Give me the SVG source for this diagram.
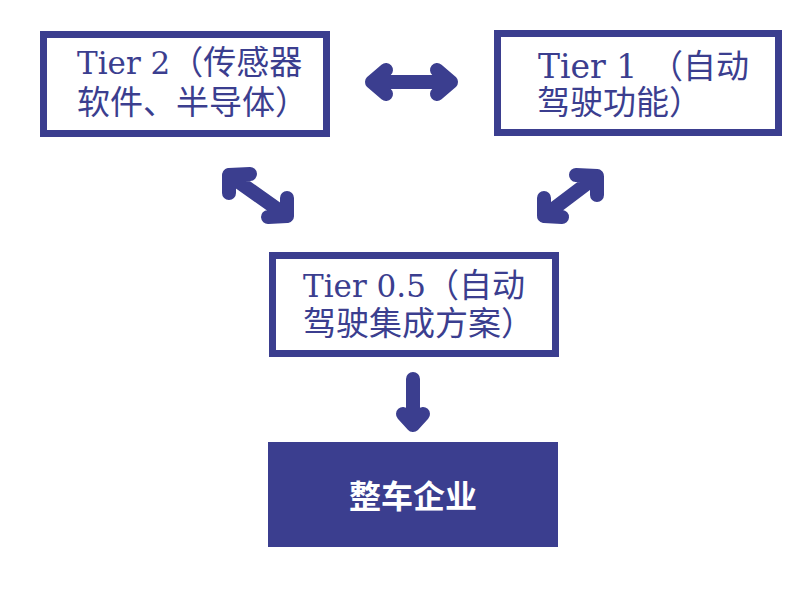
<svg xmlns="http://www.w3.org/2000/svg" width="807" height="604" viewBox="0 0 807 604">
<style>
.box{fill:#ffffff;stroke:#3b3e8f;stroke-width:7}
.solid{fill:#3b3e8f}
.t{font-family:"Noto Sans CJK SC",sans-serif;font-size:33px;fill:#3b3e8f}
.l{font-family:"DejaVu Serif","Liberation Serif",serif}
.w{font-family:"Noto Sans CJK SC",sans-serif;font-size:32px;font-weight:700;fill:#ffffff}
.arr{fill:none;stroke:#3b3e8f;stroke-width:14;stroke-linecap:round;stroke-linejoin:round}
</style>
<rect width="807" height="604" fill="#ffffff"/>
<g id="tier2">
<rect class="box" x="43.5" y="34.5" width="283" height="99"/>
<text class="t" x="77" y="74"><tspan class="l" font-size="31">Tier 2</tspan>（传感器</text>
<text class="t" x="77" y="114">软件、半导体）</text>
</g>
<g id="tier1">
<rect class="box" x="497.5" y="33.5" width="281" height="99"/>
<text class="t" x="538" y="78" font-size="35"><tspan class="l">Tier 1</tspan><tspan x="650">（自动</tspan></text>
<text class="t" x="537" y="114" font-size="35">驾驶功能）</text>
</g>
<g id="tier05">
<rect class="box" x="272.5" y="255.5" width="283" height="98"/>
<text class="t" x="303" y="297"><tspan class="l" font-size="31">Tier 0.5</tspan>（自动</text>
<text class="t" x="303" y="335">驾驶集成方案）</text>
</g>
<g id="oem">
<rect class="solid" x="268" y="442" width="290" height="105"/>
<text class="w" x="413" y="508" text-anchor="middle">整车企业</text>
</g>
<g id="connectors">
<path class="arr" d="M372,82 H451 M386,70 L372,82 L386,94 M437,70 L451,82 L437,94"/>
<path class="arr" d="M229,175 L287,216 M250,174 L229,175 L229,193 M268,217 L287,216 L287,198"/>
<path class="arr" d="M597,176 L544,216 M576,175 L597,176 L597,195 M562,217 L544,216 L544,198"/>
<path class="arr" d="M413,379 V425 M403,414 L413,425 L423,414"/>
</g>
</svg>
